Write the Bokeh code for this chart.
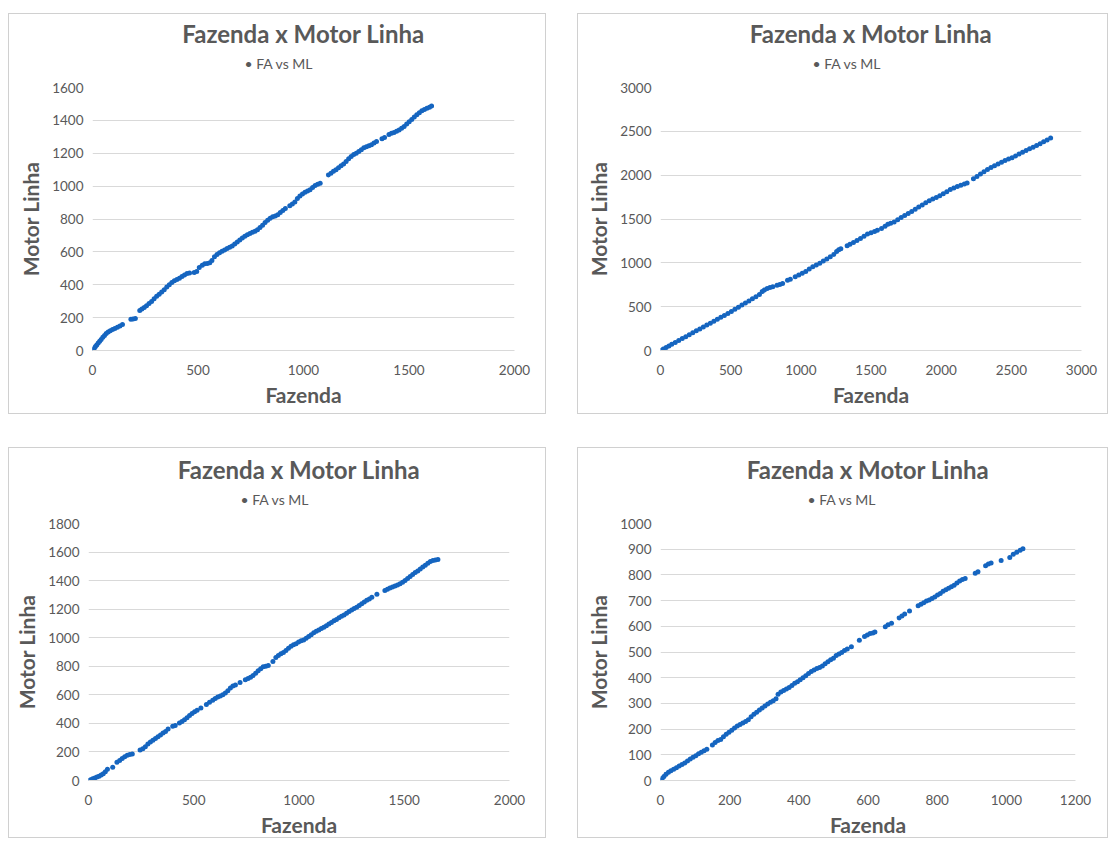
from bokeh.plotting import figure
from bokeh.models import Range1d, FixedTicker, Spacer, Title
from bokeh.layouts import row, column
from bokeh.embed import file_html
from bokeh.resources import INLINE

TITLE = "Fazenda x Motor Linha"
SERIES = "FA vs ML"
X_LABEL = "Fazenda"
Y_LABEL = "Motor Linha"

# ---- chart 1 (top left)
fa1 = [0, 4, 9, 14, 20, 27, 34, 41, 49, 57, 65, 74, 84, 95, 106, 118, 130, 142, 182, 192, 203,
       224, 234, 245, 256, 268, 280, 292, 304, 316, 328, 340, 352, 364, 376, 388, 400, 412, 424,
       436, 448, 460, 482, 494, 506, 520, 532, 544, 556, 566, 578, 590, 602, 614, 626, 638, 650,
       662, 674, 686, 698, 710, 722, 734, 746, 758, 770, 782, 794, 806, 818, 830, 842, 854, 866,
       878, 890, 902, 914, 935, 947, 959, 971, 983, 995, 1007, 1019, 1031, 1043, 1055, 1067, 1079,
       1118, 1130, 1142, 1154, 1166, 1178, 1190, 1202, 1214, 1226, 1238, 1250, 1262, 1274, 1286,
       1298, 1310, 1322, 1334, 1346, 1372, 1384, 1405, 1417, 1429, 1441, 1453, 1465, 1477, 1489,
       1501, 1513, 1525, 1537, 1549, 1561, 1573, 1585, 1597, 1607]
ml1 = [0, 8, 15, 24, 33, 45, 56, 67, 80, 92, 104, 112, 120, 127, 134, 141, 149, 158, 190, 192, 195,
       244, 252, 262, 273, 286, 298, 315, 330, 342, 356, 370, 386, 400, 414, 424, 432, 440, 450,
       460, 468, 472, 474, 480, 505, 518, 527, 530, 534, 548, 570, 584, 595, 604, 612, 620, 628,
       636, 648, 660, 672, 684, 695, 704, 712, 720, 726, 734, 748, 762, 778, 792, 804, 814, 818,
       826, 840, 852, 864, 880, 892, 904, 924, 940, 952, 962, 970, 978, 992, 1004, 1012, 1018,
       1068, 1078, 1090, 1100, 1112, 1124, 1134, 1150, 1166, 1180, 1192, 1200, 1210, 1222, 1234,
       1240, 1246, 1252, 1262, 1272, 1288, 1296, 1314, 1322, 1326, 1334, 1342, 1352, 1362, 1378,
       1392, 1406, 1420, 1434, 1446, 1458, 1466, 1474, 1480, 1488]
xt1 = [0, 500, 1000, 1500, 2000]
yt1 = [0, 200, 400, 600, 800, 1000, 1200, 1400, 1600]

# ---- chart 2 (top right)
fa2 = [0, 20, 40, 60, 80, 105, 130, 155, 180, 205, 230, 255, 280, 305, 330, 355, 380, 405, 430,
       455, 480, 505, 530, 555, 580, 605, 630, 655, 680, 705, 725, 740, 760, 780, 800, 830, 850,
       870, 905, 925, 960, 985, 1010, 1035, 1060, 1085, 1110, 1135, 1160, 1185, 1210, 1235, 1255,
       1270, 1285, 1330, 1350, 1375, 1400, 1425, 1450, 1475, 1500, 1525, 1545, 1575, 1600, 1620,
       1640, 1665, 1690, 1715, 1740, 1765, 1790, 1815, 1840, 1865, 1890, 1915, 1940, 1965, 1990,
       2015, 2040, 2065, 2090, 2115, 2140, 2165, 2185, 2230, 2255, 2280, 2305, 2330, 2355, 2380,
       2405, 2430, 2455, 2480, 2505, 2530, 2555, 2580, 2605, 2630, 2655, 2680, 2705, 2730, 2755,
       2780]
ml2 = [0, 16, 34, 52, 70, 92, 114, 136, 158, 180, 202, 224, 246, 268, 290, 312, 334, 356, 378,
       400, 422, 446, 470, 494, 518, 542, 566, 590, 614, 640, 672, 690, 706, 718, 728, 744, 754,
       764, 800, 812, 840, 860, 880, 902, 930, 955, 975, 995, 1020, 1045, 1070, 1096, 1130,
       1150, 1160, 1196, 1212, 1232, 1254, 1278, 1302, 1328, 1344, 1358, 1372, 1392, 1418, 1440,
       1452, 1466, 1492, 1518, 1540, 1562, 1586, 1610, 1636, 1660, 1684, 1708, 1728, 1746, 1766,
       1788, 1812, 1836, 1854, 1870, 1886, 1900, 1912, 1958, 1984, 2012, 2040, 2066, 2088, 2106,
       2126, 2146, 2166, 2184, 2200, 2220, 2242, 2262, 2280, 2300, 2318, 2338, 2358, 2380, 2402,
       2425]
xt2 = [0, 500, 1000, 1500, 2000, 2500, 3000]
yt2 = [0, 500, 1000, 1500, 2000, 2500, 3000]

# ---- chart 3 (bottom left)
fa3 = [0, 10, 20, 30, 40, 50, 60, 70, 80, 90, 115, 135, 148, 160, 172, 184, 196, 208, 245, 258,
       270, 282, 294, 306, 318, 330, 342, 354, 366, 378, 400, 412, 432, 444, 456, 468, 480, 492,
       504, 516, 534, 560, 575, 590, 602, 614, 626, 638, 650, 662, 674, 686, 698, 720, 745, 758,
       770, 782, 794, 806, 818, 830, 842, 854, 876, 890, 902, 914, 926, 938, 950, 962, 974, 986,
       998, 1010, 1022, 1034, 1046, 1058, 1070, 1082, 1094, 1106, 1118, 1130, 1142, 1154, 1166,
       1178, 1190, 1202, 1214, 1226, 1238, 1250, 1262, 1274, 1286, 1298, 1310, 1322, 1334, 1346,
       1370, 1408, 1420, 1432, 1444, 1456, 1468, 1480, 1492, 1504, 1516, 1528, 1540, 1552, 1564,
       1576, 1588, 1600, 1612, 1624, 1636, 1648, 1660]
ml3 = [0, 6, 12, 18, 24, 30, 38, 48, 62, 78, 92, 128, 140, 154, 166, 176, 182, 186, 214, 222,
       236, 256, 270, 282, 294, 306, 318, 332, 344, 360, 380, 386, 402, 414, 426, 440, 456, 470,
       482, 492, 508, 532, 548, 562, 574, 584, 592, 600, 612, 628, 648, 662, 668, 686, 706, 714,
       724, 736, 752, 768, 782, 796, 800, 806, 834, 862, 876, 888, 896, 910, 926, 940, 950, 958,
       970, 978, 984, 996, 1008, 1020, 1034, 1046, 1054, 1064, 1074, 1084, 1096, 1106, 1118,
       1128, 1140, 1150, 1160, 1172, 1184, 1194, 1204, 1214, 1226, 1238, 1250, 1262, 1272, 1284,
       1304, 1330, 1340, 1348, 1356, 1362, 1370, 1378, 1388, 1400, 1414, 1428, 1442, 1456, 1468,
       1482, 1496, 1508, 1522, 1534, 1540, 1544, 1548]
xt3 = [0, 500, 1000, 1500, 2000]
yt3 = [0, 200, 400, 600, 800, 1000, 1200, 1400, 1600, 1800]

# ---- chart 4 (bottom right)
fa4 = [0, 5, 10, 16, 23, 30, 38, 46, 54, 62, 70, 78, 86, 94, 102, 110, 118, 126, 134, 150, 158,
       166, 174, 182, 190, 198, 206, 214, 222, 230, 238, 246, 254, 262, 270, 278, 286, 294, 302,
       310, 318, 326, 334, 340, 348, 356, 364, 372, 380, 388, 396, 404, 412, 420, 428, 436, 444,
       452, 460, 468, 476, 484, 492, 500, 508, 516, 524, 532, 540, 552, 575, 590, 598, 606, 614,
       620, 650, 658, 668, 690, 698, 706, 720, 745, 753, 761, 769, 777, 785, 793, 801, 809, 817,
       825, 833, 841, 849, 857, 865, 873, 881, 910, 918, 940, 948, 956, 985, 1010, 1020, 1030,
       1040, 1048]
ml4 = [0, 8, 16, 24, 32, 38, 44, 50, 56, 62, 68, 76, 84, 90, 96, 104, 110, 116, 122, 138, 148,
       156, 160, 170, 180, 188, 196, 204, 212, 218, 224, 230, 236, 248, 258, 266, 274, 282, 290,
       298, 304, 310, 318, 336, 344, 350, 356, 362, 370, 378, 384, 392, 400, 408, 416, 424, 430,
       436, 440, 446, 454, 462, 470, 476, 486, 492, 498, 506, 512, 520, 546, 560, 566, 572, 574,
       578, 598, 606, 612, 632, 640, 648, 660, 680, 686, 692, 698, 702, 708, 714, 722, 728, 736,
       742, 748, 754, 760, 768, 776, 782, 786, 806, 812, 836, 842, 846, 856, 868, 880, 888,
       896, 902]
xt4 = [0, 200, 400, 600, 800, 1000, 1200]
yt4 = [0, 100, 200, 300, 400, 500, 600, 700, 800, 900, 1000]

FONT = "Lato"
GREY = "#595959"
BLUE = "#1565C0"


def make_panel(fa, ml, xt, yt, w, h, bl, bt, br, bb, leg_off):
    p = figure(width=w, height=h, output_backend="svg", toolbar_location=None, title=None,
               x_range=Range1d(xt[0], xt[-1]), y_range=Range1d(yt[0], yt[-1]),
               min_border_left=bl, min_border_top=bt, min_border_right=br,
               min_border_bottom=bb)
    p.styles = {"border": "1px solid #D0D0D0"}
    p.outline_line_color = None
    p.scatter(fa, ml, size=5, color=BLUE, line_color=None)

    # legend line (nearest to the plot), then the chart title above it
    p.add_layout(Title(text="\u2022 " + SERIES, align="left", offset=leg_off,
                       text_font=FONT, text_font_size="14px", text_font_style="normal",
                       text_color=GREY, standoff=31), "above")
    p.add_layout(Title(text=TITLE, align="center", text_font=FONT,
                       text_font_size="24px", text_font_style="bold",
                       text_color=GREY, standoff=-20), "above")

    p.xgrid.grid_line_color = None
    p.ygrid.grid_line_color = "#D9D9D9"
    p.xaxis.ticker = FixedTicker(ticks=xt)
    p.yaxis.ticker = FixedTicker(ticks=yt)
    for ax in (p.xaxis[0], p.yaxis[0]):
        ax.major_tick_line_color = None
        ax.minor_tick_line_color = None
        ax.major_label_text_font = FONT
        ax.major_label_text_font_size = "13.5px"
        ax.major_label_text_color = GREY
        ax.major_label_text_line_height = 1.0
        ax.axis_label_text_font = FONT
        ax.axis_label_text_font_size = "21px"
        ax.axis_label_text_font_style = "bold"
        ax.axis_label_text_color = GREY
        ax.axis_label_text_line_height = 1.0
    p.xaxis.axis_line_color = "#D9D9D9"
    p.yaxis.axis_line_color = None
    p.xaxis.axis_label = X_LABEL
    p.yaxis.axis_label = Y_LABEL
    p.xaxis.major_label_standoff = 8
    p.xaxis.axis_label_standoff = 4
    p.yaxis.major_label_standoff = 3
    p.yaxis.axis_label_standoff = 6
    return p


p1 = make_panel(fa1, ml1, xt1, yt1, 538, 401, 83, 72, 33, 65, 152)
p2 = make_panel(fa2, ml2, xt2, yt2, 531, 401, 82, 73, 28, 65, 152)
p3 = make_panel(fa3, ml3, xt3, yt3, 538, 391, 79, 70, 38, 58, 152)
p4 = make_panel(fa4, ml4, xt4, yt4, 531, 391, 82, 75, 34, 53, 147)

layout = column(
    Spacer(height=13),
    row(Spacer(width=8), p1, Spacer(width=31), p2),
    Spacer(height=33),
    row(Spacer(width=8), p3, Spacer(width=31), p4),
)

open("out.html", "w").write(file_html(layout, INLINE))
